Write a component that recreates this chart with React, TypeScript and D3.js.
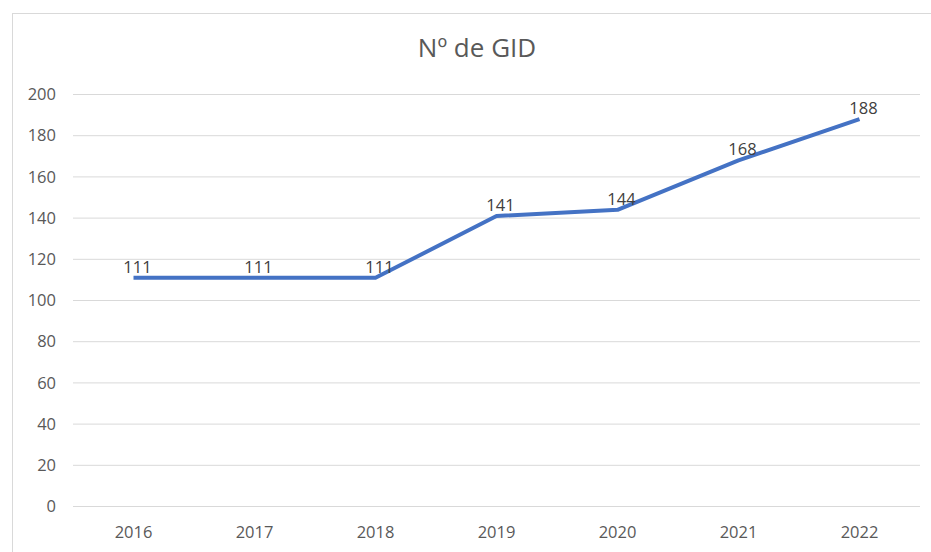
import React from "react";
import * as d3 from "d3";

const years = ["2016", "2017", "2018", "2019", "2020", "2021", "2022"];
const values = [111, 111, 111, 141, 144, 168, 188];
const yTicks = [0, 20, 40, 60, 80, 100, 120, 140, 160, 180, 200];
const title = "Nº de GID";

export default function App() {
  const W = 931, H = 552;
  const x = d3.scaleBand<string>().domain(years).range([73, 920]);
  const y = d3.scaleLinear().domain([0, 200]).range([506.5, 94.5]);
  const line = d3
    .line<number>()
    .x((_, i) => (x(years[i]) as number) + x.bandwidth() / 2)
    .y((d) => y(d));
  const font = "'Open Sans', 'Noto Sans', sans-serif";
  return (
    <svg
      width={W}
      height={H}
      style={{ position: "absolute", left: 0, top: 0, background: "#fff" }}
      fontFamily={font}
    >
      <rect x={12.5} y={13.5} width={930} height={560} fill="#fff" stroke="#d9d9d9" strokeWidth={1} />
      <text x={477} y={57} textAnchor="middle" fontSize={26} fill="#595959">
        {title}
      </text>
      {yTicks.map((t) => (
        <g key={t}>
          <line x1={73} x2={920} y1={y(t)} y2={y(t)} stroke="#d9d9d9" strokeWidth={1} />
          <text x={56} y={y(t)} dy="0.35em" textAnchor="end" fontSize={16.5} fill="#595959">
            {t}
          </text>
        </g>
      ))}
      {years.map((yr) => (
        <text
          key={yr}
          x={(x(yr) as number) + x.bandwidth() / 2}
          y={532}
          dy="0.35em"
          textAnchor="middle"
          fontSize={16.5}
          fill="#595959"
        >
          {yr}
        </text>
      ))}
      <path d={line(values) || ""} fill="none" stroke="#4472C4" strokeWidth={4} strokeLinejoin="round" />
      {values.map((v, i) => (
        <text
          key={i}
          x={(x(years[i]) as number) + x.bandwidth() / 2 + 4}
          y={y(v) - 5}
          textAnchor="middle"
          fontSize={16.5}
          fill="#404040"
        >
          {v}
        </text>
      ))}
    </svg>
  );
}
